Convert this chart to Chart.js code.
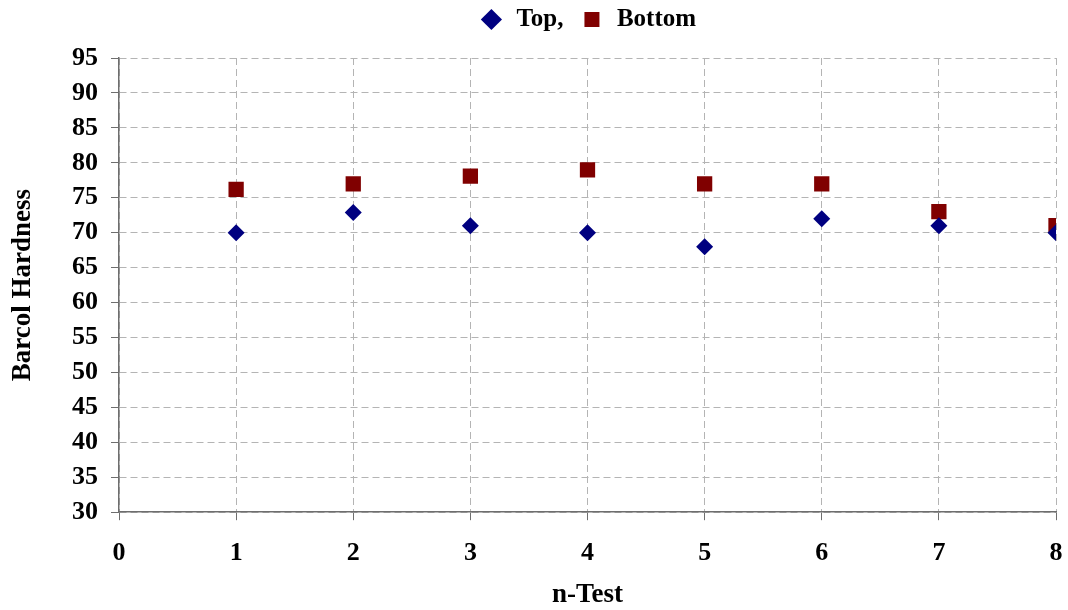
<!DOCTYPE html>
<html>
<head>
<meta charset="utf-8">
<script src="https://cdn.jsdelivr.net/npm/chart.js@4/dist/chart.umd.min.js"></script>
<style>
  html, body { margin: 0; padding: 0; background: #fff; }
  #wrap { width: 1068px; height: 610px; }
</style>
</head>
<body>
<div id="wrap"><canvas id="chart"></canvas></div>
<script>
// n-Test positions and hardness readings
const tests = [1, 2, 3, 4, 5, 6, 7, 8];
const topValues = [70, 72.9, 71, 70, 68, 72, 71, 70];
const bottomValues = [76.2, 77, 78.1, 79, 77, 77, 73, 71];
const seriesNames = ['Top,', 'Bottom'];

const serif = 'Liberation Serif, Times New Roman, serif';
const gridColor = '#b4b4b4';
const axisColor = '#6e6e6e';

function toPoints(vals) {
  return tests.map((t, i) => ({ x: t, y: vals[i] }));
}

// leave a bit more room under the legend, then centre it over the plot area
const legendOverPlot = {
  id: 'legendOverPlot',
  beforeInit(chart) {
    const fit = chart.legend.fit;
    chart.legend.fit = function () {
      fit.call(this);
      this.height += 7;
    };
  },
  afterLayout(chart) {
    const lg = chart.legend;
    if (!lg) return;
    const shift = (chart.chartArea.left + chart.chartArea.right) / 2 - (lg.left + lg.right) / 2;
    lg.left += shift;
    lg.right += shift;
    lg.top -= 9;
    lg.bottom -= 9;
  }
};

new Chart(document.getElementById('chart'), {
  type: 'scatter',
  data: {
    datasets: [{
      label: seriesNames[0],
      data: toPoints(topValues),
      pointStyle: 'rectRot',
      pointRadius: 8.5,
      pointHoverRadius: 8.5,
      pointBackgroundColor: '#000080',
      pointBorderWidth: 0,
      backgroundColor: '#000080',
      borderColor: '#000080'
    }, {
      label: seriesNames[1],
      data: toPoints(bottomValues),
      pointStyle: 'rect',
      pointRadius: 10.8,
      pointHoverRadius: 10.8,
      pointBackgroundColor: '#800000',
      pointBorderWidth: 0,
      backgroundColor: '#800000',
      borderColor: '#800000'
    }]
  },
  plugins: [legendOverPlot],
  options: {
    responsive: true,
    maintainAspectRatio: false,
    animation: false,
    layout: { padding: { left: 8, right: 12, top: 0, bottom: 6 } },
    plugins: {
      tooltip: { enabled: false },
      legend: {
        position: 'top',
        labels: {
          usePointStyle: true,
          boxWidth: 25,
          boxHeight: 15,
          padding: 16,
          color: '#000',
          font: { family: serif, size: 25, weight: 'bold' }
        }
      }
    },
    scales: {
      x: {
        type: 'linear',
        min: 0,
        max: 8,
        ticks: {
          stepSize: 1,
          color: '#000',
          padding: 3,
          font: { family: serif, size: 26, weight: 'bold', lineHeight: 2.3 }
        },
        grid: {
          color: gridColor,
          lineWidth: 1,
          tickLength: 8,
          tickColor: axisColor,
          tickBorderDash: []
        },
        border: { color: axisColor, width: 1.5, dash: [7, 4] },
        title: {
          display: true,
          text: 'n-Test',
          color: '#000',
          padding: 0,
          font: { family: serif, size: 27, weight: 'bold', lineHeight: 0.667 }
        }
      },
      y: {
        min: 30,
        max: 95,
        ticks: {
          stepSize: 5,
          color: '#000',
          padding: 13,
          font: { family: serif, size: 26, weight: 'bold' }
        },
        grid: {
          color: gridColor,
          lineWidth: 1,
          tickLength: 8,
          tickColor: axisColor,
          tickBorderDash: []
        },
        border: { color: axisColor, width: 1.5, dash: [7, 4] },
        title: {
          display: true,
          text: 'Barcol Hardness',
          color: '#000',
          padding: { top: 2, bottom: 22 },
          font: { family: serif, size: 27, weight: 'bold', lineHeight: 1 }
        }
      }
    }
  }
});
</script>
</body>
</html>
